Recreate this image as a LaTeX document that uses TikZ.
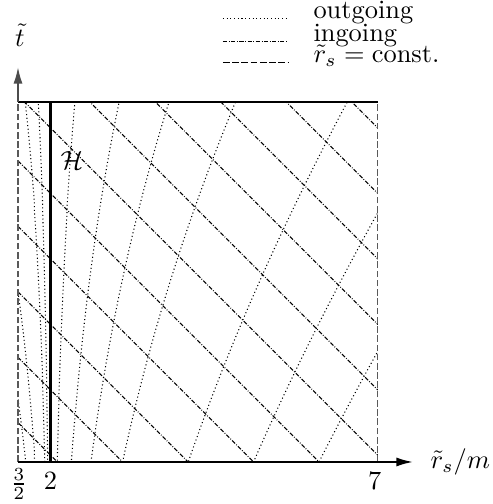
\documentclass[tikz,border=0pt]{standalone}
\usepackage{amsmath,amssymb}
\usetikzlibrary{arrows.meta}

\begin{document}
\begin{tikzpicture}[
  x=0.8713cm, y=0.8713cm,
  outgoing/.style={densely dotted,thin},
  ingoing/.style={thin,dash pattern=on 1.6pt off 0.6pt on 0.3pt off 0.6pt},
  rconst/.style={thin,black!65,dash pattern=on 2.5pt off 1pt},
  legline/.style={thin},
  axis/.style={-{Latex[length=2.2mm,width=1.2mm]},line width=0.7pt},
  lbl/.style={inner sep=0pt},
]
  \useasboundingbox (1.225,-0.642) rectangle (8.757,7.059);

  % corners of the region
  \coordinate (bl) at (1.5,0);
  \coordinate (br) at (7,0);
  \coordinate (tl) at (1.5,5.5);
  \coordinate (tr) at (7,5.5);
  \coordinate (hb) at (2,0);
  \coordinate (ht) at (2,5.5);

  % null lines, clipped to the region
  \begin{scope}
    \clip (bl) rectangle (tr);
    % ingoing: t + r = const
    \foreach \c in {2,...,12}
      \draw[ingoing] (1.5,{\c+0.1-1.5}) -- (7,{\c+0.1-7});
    % outgoing, outside the horizon
    \foreach \C/\ra/\rb in {9.88/2.095/2.38, 5.05/2.30/3.06, 2.1/2.6/3.83,
                            -0.7/3.05/4.85, -4.3/4.05/6.55, -6.85/5.05/7, -8.97/6.05/7}
      \draw[outgoing] plot[domain=\ra:\rb,samples=140,smooth]
        (\x,{\x+4*ln(\x/2-1)+\C});
    % outgoing, inside the horizon
    \foreach \C/\ra/\rb in {13.1/1.80/1.96, 10.43/1.60/1.915, 6.64/1.5/1.77, 5.0/1.5/1.63}
      \draw[outgoing] plot[domain=\ra:\rb,samples=140,smooth]
        (\x,{\x+4*ln(1-\x/2)+\C});
  \end{scope}

  % r = const. boundaries and top
  \draw[rconst] (bl) -- (tl);
  \draw[rconst] (br) -- (tr);
  \draw[line width=0.7pt] (tl) -- (tr);

  % horizon
  \draw[line width=1.1pt] (hb) -- (ht);
  \node (H) at (2.325,4.6) {$\mathcal{H}$};

  % axes
  \coordinate (xend) at (7.535,0);
  \coordinate (yend) at (1.5,6.035);
  \draw[axis] (bl) -- (xend);
  \draw[axis,black!70] (tl) -- (yend);
  \node[lbl,anchor=west] (xlab) at (7.795,0) {$\tilde r_s/m$};
  \node (ylab) at (1.53,6.52) {$\tilde t$};

  % tick labels
  \node (tk1) at (1.515,-0.336) {$\frac{3}{2}$};
  \node (tk2) at (1.997,-0.298) {$2$};
  \node (tk7) at (6.95,-0.29) {$7$};

  % legend
  \draw[outgoing] (4.632,6.78) -- (5.625,6.78);
  \node[lbl,anchor=base west] (lout) at (6.007,6.78) {outgoing};
  \draw[ingoing] (4.632,6.43) -- (5.625,6.43);
  \node[lbl,anchor=base west] (lin) at (6.007,6.43) {ingoing};
  \draw[legline,dash pattern=on 2.5pt off 1pt] (4.632,6.10) -- (5.625,6.10);
  \node[lbl,anchor=base west] (lconst) at (6.007,6.10) {$\tilde r_s=\text{const.}$};
\end{tikzpicture}
\end{document}
